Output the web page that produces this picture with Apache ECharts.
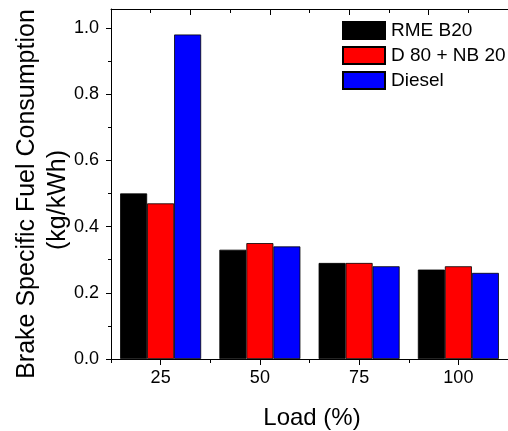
<!DOCTYPE html>
<html>
<head>
<meta charset="utf-8">
<script src="https://cdn.jsdelivr.net/npm/echarts@6/dist/echarts.min.js"></script>
<style>
html,body{margin:0;padding:0;background:#fff;}
#c{width:508px;height:431px;}
</style>
</head>
<body>
<div id="c"></div>
<script>
const categories = ['25', '50', '75', '100'];
const rmeB20 = [0.50, 0.33, 0.29, 0.27];
const d80nb20 = [0.47, 0.35, 0.29, 0.28];
const diesel = [0.98, 0.34, 0.28, 0.26];
const seriesNames = ['RME B20', 'D 80 + NB 20', 'Diesel'];
const yTicks = [0, 0.2, 0.4, 0.6, 0.8, 1.0];
const yMinorTicks = [0.1, 0.3, 0.5, 0.7, 0.9];
const yMax = 1.057;
const yTitle = 'Brake Specific Fuel Consumption';
const yUnit = '(kg/kWh)';
const xTitle = 'Load (%)';

const FONT = "'Liberation Sans', Arial, sans-serif";
const chart = echarts.init(document.getElementById('c'), null, {renderer: 'canvas'});
const colors = ['#000000', '#ff0000', '#0000ff'];
const dataSets = [rmeB20, d80nb20, diesel];

const option = {
  animation: false,
  backgroundColor: '#ffffff',
  grid: {left: 111, top: 9, width: 400, height: 350, containLabel: false},
  legend: {
    left: 337, top: 16, orient: 'vertical', padding: 5,
    itemWidth: 42, itemHeight: 17, itemGap: 6,
    icon: 'rect',
    textStyle: {fontFamily: FONT, fontSize: 19, color: '#000', lineHeight: 19, padding: [0,0,0,1]},
    data: seriesNames
  },
  xAxis: [
    {
      type: 'category', data: categories, position: 'bottom',
      axisLine: {show: true, lineStyle: {color: '#000', width: 1}},
      axisTick: {show: true, alignWithLabel: true, length: 6, lineStyle: {color: '#000'}},
      axisLabel: {fontFamily: FONT, fontSize: 18, color: '#000', margin: 10},
      splitLine: {show: false}
    },
    {
      type: 'value', position: 'top', min: 0, max: 10, interval: 2,
      axisLine: {show: true, onZero: false, lineStyle: {color: '#000', width: 1}},
      axisTick: {show: true, inside: true, length: 6, lineStyle: {color: '#000'}},
      minorTick: {show: true, splitNumber: 2, length: 4, lineStyle: {color: '#000'}},
      axisLabel: {show: false}, splitLine: {show: false}
    },
    {
      type: 'value', position: 'bottom', min: 0, max: 4, interval: 1,
      axisLine: {show: false, onZero: false},
      axisTick: {show: true, length: 4, lineStyle: {color: '#000'}},
      axisLabel: {show: false}, splitLine: {show: false}
    }
  ],
  yAxis: [
    {
      type: 'value', min: 0, max: yMax, position: 'left',
      axisLine: {show: true, lineStyle: {color: '#000', width: 1}},
      axisTick: {show: true, length: 5, customValues: yTicks, lineStyle: {color: '#000'}},
      axisLabel: {customValues: yTicks, fontFamily: FONT, fontSize: 18, color: '#000', margin: 12,
        formatter: v => v.toFixed(1)},
      splitLine: {show: false}
    },
    {
      type: 'value', min: 0, max: yMax, position: 'left',
      axisLine: {show: false, onZero: false},
      axisTick: {show: true, length: 3, customValues: yMinorTicks, lineStyle: {color: '#000'}},
      axisLabel: {show: false}, splitLine: {show: false}
    }
  ],
  series: seriesNames.map((n, i) => ({
    name: n, type: 'bar', xAxisIndex: 0, yAxisIndex: 0,
    data: dataSets[i], barWidth: 27, barGap: '0%',
    itemStyle: {color: colors[i], borderColor: '#000', borderWidth: 0.8}
  })),
  graphic: [
    {type: 'text', x: 27, y: 194, rotation: Math.PI / 2,
      style: {text: yTitle, font: '25px ' + FONT, fill: '#000', align: 'center', verticalAlign: 'middle'}},
    {type: 'text', x: 58, y: 200, rotation: Math.PI / 2,
      style: {text: yUnit, font: '25px ' + FONT, fill: '#000', align: 'center', verticalAlign: 'middle'}},
    {type: 'text', x: 312, y: 418,
      style: {text: xTitle, font: '24px ' + FONT, fill: '#000', align: 'center', verticalAlign: 'middle'}}
  ]
};
chart.setOption(option);
</script>
</body>
</html>
